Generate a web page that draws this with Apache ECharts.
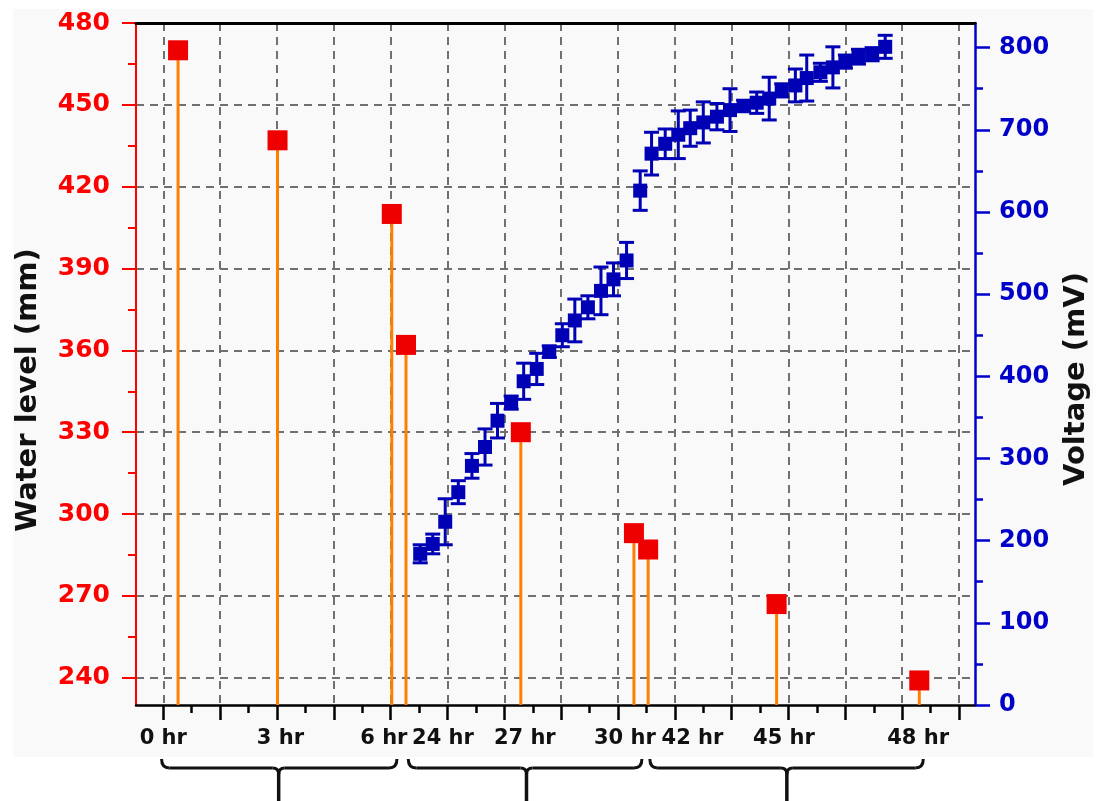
<!DOCTYPE html>
<html><head><meta charset="utf-8">
<script src="https://cdn.jsdelivr.net/npm/echarts@6/dist/echarts.min.js"></script>
<style>html,body{margin:0;padding:0;background:#fff}#c{width:1097px;height:801px}</style>
</head><body><div id="c"></div>
<script>
// ---- data (x in axis units: one unit = one major tick) ----
const xLabelPos  = [0, 2.06, 3.88, 4.92, 6.36, 8.12, 9.31, 10.92, 13.28];
const xLabelText = ['0 hr','3 hr','6 hr','24 hr','27 hr','30 hr','42 hr','45 hr','48 hr'];
const xMajorTicks = [0,1,2,3,4,5,6,7,8,9,10,11,12,13,14];
const xMinorTicks = [0.5,1.5,2.5,3.5,4.5,5.5,6.5,7.5,8.5,9.5,10.5,11.5,12.5,13.5];
const braceGroups = [[-0.03, 2.03, 4.11], [4.31, 6.39, 8.42], [8.56, 10.97, 13.37]];

const yLeftTicks = [240,270,300,330,360,390,420,450,480];
const yLeftMinor = [255,285,315,345,375,405,435,465];
const yRightTicks = [0,100,200,300,400,500,600,700,800];

const waterX = [0.26, 2.01, 4.02, 4.27, 6.29, 8.28, 8.53, 10.79, 13.30];
const waterY = [470, 437, 410, 362, 330, 293, 287, 267, 239];

const voltX = [4.52,4.74,4.96,5.19,5.43,5.66,5.88,6.12,6.34,6.57,6.79,7.02,7.24,7.47,7.70,7.92,8.15,
               8.39,8.59,8.83,9.06,9.27,9.50,9.74,9.97,10.21,10.44,10.66,10.88,11.12,11.32,11.56,11.78,12.00,12.23,12.47,12.70];
const voltY = [184,196,223,259,291,314,346,368,394,409,430,450,468,484,504,518,541,
               626,671,683,694,702,709,716,724,729,733,738,748,754,763,770,776,783,789,792,801];
const voltErr = [11,12,28,14,15,22,21,8,22,19,7,14,26,14,29,20,22,
                 24,26,18,29,22,25,16,26,7,13,26,8,20,28,11,25,8,9,8,14];

const xMin = -0.48, xMax = 14.28;
const wMin = 230, wMax = 480;
const vMin = 0, vMax = 830;

const FONT = 'DejaVu Sans';
const gridBox = {left: 136, right: 122, top: 23, bottom: 96, outerBoundsMode: 'none', containLabel: false};

const chart = echarts.init(document.getElementById('c'));
chart.setOption({
  animation: false,
  backgroundColor: '#ffffff',
  grid: [Object.assign({}, gridBox), Object.assign({}, gridBox)],
  xAxis: [
    { type: 'value', gridIndex: 0, position: 'bottom', min: xMin, max: xMax,
      axisLine: {show: true, onZero: false, lineStyle: {color: '#000', width: 2.5}},
      axisTick: {show: true, customValues: xMajorTicks, length: 15, lineStyle: {color: '#000', width: 2.5}},
      axisLabel: {show: true, customValues: xLabelPos, margin: 23,
        formatter: v => { const i = xLabelPos.indexOf(v); return i >= 0 ? xLabelText[i] : ''; },
        color: '#111', fontFamily: FONT, fontWeight: 'bold', fontSize: 21},
      splitLine: {show: true, lineStyle: {color: '#707070', width: 2, type: [8, 6]}}
    },
    { type: 'value', gridIndex: 0, position: 'top', min: xMin, max: xMax, z: 10,
      axisLine: {show: true, onZero: false, lineStyle: {color: '#000', width: 3}},
      axisTick: {show: false}, axisLabel: {show: false}, splitLine: {show: false}
    },
    { type: 'value', gridIndex: 1, position: 'bottom', min: xMin, max: xMax,
      axisLine: {show: false, onZero: false},
      axisTick: {show: true, customValues: xMinorTicks, length: 8, lineStyle: {color: '#000', width: 2.5}},
      axisLabel: {show: false}, splitLine: {show: false}
    }
  ],
  yAxis: [
    { type: 'value', gridIndex: 0, position: 'left', min: wMin, max: wMax,
      axisLine: {show: true, onZero: false, lineStyle: {color: '#ff0000', width: 2}},
      axisTick: {show: true, customValues: yLeftTicks, length: 14, lineStyle: {color: '#ff0000', width: 2}},
      axisLabel: {show: true, customValues: yLeftTicks, margin: 26, color: '#ff0000',
        fontFamily: FONT, fontWeight: 'bold', fontSize: 25},
      splitLine: {show: true, lineStyle: {color: '#707070', width: 2, type: [8, 6]}}
    },
    { type: 'value', gridIndex: 0, position: 'right', min: vMin, max: vMax, interval: 100,
      axisLine: {show: true, onZero: false, lineStyle: {color: '#0000cc', width: 2.5}},
      axisTick: {show: true, customValues: yRightTicks, length: 15, lineStyle: {color: '#0000cc', width: 2.5}},
      minorTick: {show: true, splitNumber: 2, length: 8, lineStyle: {color: '#0000cc', width: 2.5}},
      axisLabel: {show: true, customValues: yRightTicks, margin: 24, color: '#0000c8',
        fontFamily: FONT, fontWeight: 'bold', fontSize: 24},
      splitLine: {show: false}
    },
    { type: 'value', gridIndex: 1, position: 'left', min: wMin, max: wMax,
      axisLine: {show: false, onZero: false},
      axisTick: {show: true, customValues: yLeftMinor, length: 8, lineStyle: {color: '#ff0000', width: 2}},
      axisLabel: {show: false}, splitLine: {show: false}
    }
  ],
  series: [
    { type: 'custom', name: 'stems', xAxisIndex: 0, yAxisIndex: 0, z: 2,
      data: waterX.map((x, i) => [x, waterY[i]]),
      encode: {x: 0, y: 1},
      renderItem: (params, api) => {
        const x = api.value(0), y = api.value(1);
        const t = api.coord([x, y]), b = api.coord([x, wMin]);
        return {type: 'line', shape: {x1: t[0], y1: t[1], x2: b[0], y2: b[1]},
                style: {stroke: '#ff8000', lineWidth: 3}};
      }
    },
    { type: 'scatter', name: 'Water level', xAxisIndex: 0, yAxisIndex: 0, z: 3,
      data: waterX.map((x, i) => [x, waterY[i]]),
      symbol: 'rect', symbolSize: 20, itemStyle: {color: '#ee0000', opacity: 1}
    },
    { type: 'custom', name: 'errors', xAxisIndex: 0, yAxisIndex: 1, z: 4,
      data: voltX.map((x, i) => [x, voltY[i], voltErr[i]]),
      encode: {x: 0, y: 1},
      renderItem: (params, api) => {
        const x = api.value(0), v = api.value(1), e = api.value(2);
        const hi = api.coord([x, v + e]), lo = api.coord([x, v - e]);
        const w = 7.5, st = {stroke: '#0000b4', lineWidth: 3};
        return {type: 'group', children: [
          {type: 'line', shape: {x1: hi[0], y1: hi[1], x2: lo[0], y2: lo[1]}, style: st},
          {type: 'line', shape: {x1: hi[0] - w, y1: hi[1], x2: hi[0] + w, y2: hi[1]}, style: st},
          {type: 'line', shape: {x1: lo[0] - w, y1: lo[1], x2: lo[0] + w, y2: lo[1]}, style: st}
        ]};
      }
    },
    { type: 'scatter', name: 'Voltage', xAxisIndex: 0, yAxisIndex: 1, z: 5,
      data: voltX.map((x, i) => [x, voltY[i]]),
      symbol: 'rect', symbolSize: 14, itemStyle: {color: '#0000b4', opacity: 1}
    }
  ]
});

// ---- annotations: background, axis titles, group braces ----
const graphics = [
  {type: 'rect', z: -100, silent: true, shape: {x: 13, y: 9, width: 1080, height: 748},
   style: {fill: '#f9f9f9'}},
  {type: 'text', x: 28, y: 390, rotation: Math.PI / 2, z: 10,
   style: {text: 'Water level (mm)', fill: '#111', font: 'bold 29px "DejaVu Sans"', align: 'center', verticalAlign: 'middle'}},
  {type: 'text', x: 1076, y: 379, rotation: Math.PI / 2, z: 10,
   style: {text: 'Voltage (mV)', fill: '#111', font: 'bold 29px "DejaVu Sans"', align: 'center', verticalAlign: 'middle'}}
];
braceGroups.forEach(g => {
  const a = chart.convertToPixel({xAxisIndex: 0}, g[0]);
  const m = chart.convertToPixel({xAxisIndex: 0}, g[1]);
  const b = chart.convertToPixel({xAxisIndex: 0}, g[2]);
  const yTop = 759, yBar = 768, yEnd = 801;
  const st = {fill: null, stroke: '#111', lineWidth: 3};
  graphics.push({type: 'group', z: 10, children: [
    {type: 'bezierCurve', shape: {x1: a, y1: yTop, cpx1: a, cpy1: yBar, x2: a + 8, y2: yBar}, style: st},
    {type: 'line', shape: {x1: a + 8, y1: yBar, x2: m - 6, y2: yBar}, style: st},
    {type: 'bezierCurve', shape: {x1: m - 6, y1: yBar, cpx1: m, cpy1: yBar, x2: m, y2: yBar + 6}, style: st},
    {type: 'bezierCurve', shape: {x1: m + 6, y1: yBar, cpx1: m, cpy1: yBar, x2: m, y2: yBar + 6}, style: st},
    {type: 'line', shape: {x1: m, y1: yBar + 4, x2: m, y2: yEnd}, style: {stroke: '#111', lineWidth: 3.5}},
    {type: 'line', shape: {x1: m + 6, y1: yBar, x2: b - 8, y2: yBar}, style: st},
    {type: 'bezierCurve', shape: {x1: b - 8, y1: yBar, cpx1: b, cpy1: yBar, x2: b, y2: yTop}, style: st}
  ]});
});
chart.setOption({graphic: graphics});
</script>
</body></html>
